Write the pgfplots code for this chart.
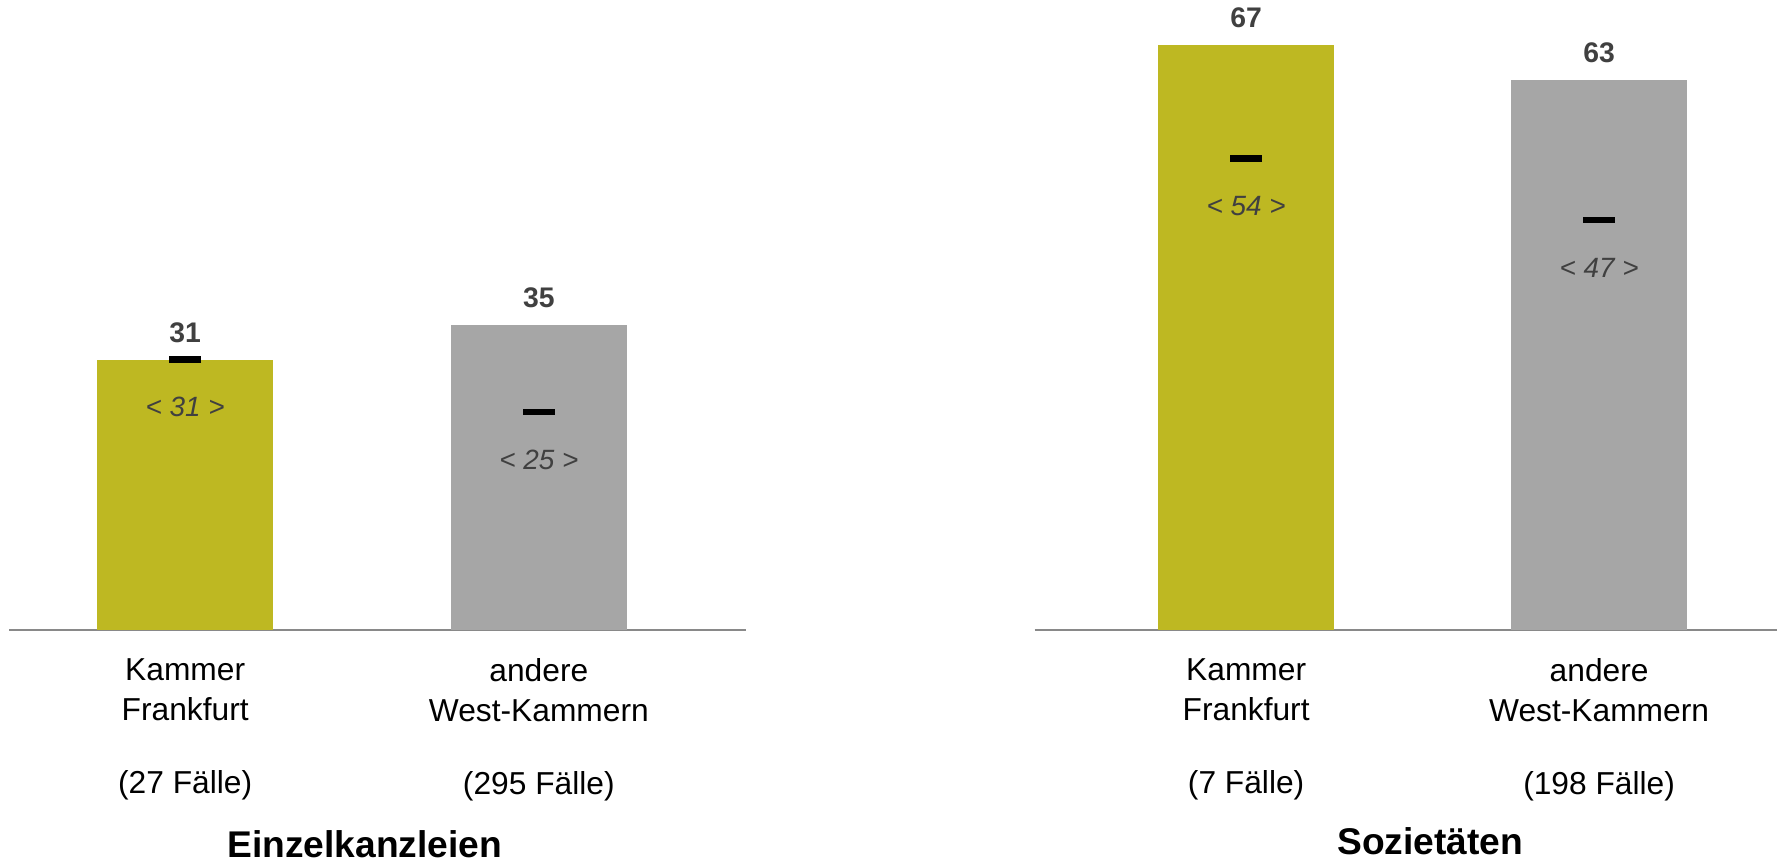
\documentclass[border=0pt]{standalone}
\usepackage{fontspec}
\setmainfont{Liberation Sans}
\usepackage{pgfplots}
\pgfplotsset{compat=1.18}

\definecolor{olivebar}{RGB}{190,184,34}
\definecolor{greybar}{RGB}{166,166,166}
\definecolor{labelgrey}{RGB}{64,64,64}
\definecolor{axisgrey}{RGB}{137,137,137}

\pgfplotsset{
  panel/.style={
    scale only axis, height=277.2pt, ymin=0, ymax=72,
    axis x line=bottom, axis y line=none,
    x axis line style={-, draw=axisgrey, line width=1pt},
    xtick={0,1}, major tick length=0pt,
    xticklabel style={anchor=north, align=center, yshift=-9pt,
      font=\fontsize{14}{17.5}\selectfont},
    /pgf/number format/assume math mode=true,
    clip=false, anchor=south west,
  },
  valbar/.style={ybar, bar width=77.5pt, bar shift=0pt, draw=none, fill=#1,
    nodes near coords,
    every node near coord/.append style={anchor=center, yshift=12pt,
      font=\bfseries\fontsize{12.5}{15}\selectfont, text=labelgrey}},
  median/.style={only marks, mark=-, mark size=7pt,
    mark options={line width=3pt, draw=black},
    nodes near coords={< \pgfmathprintnumber{\pgfplotspointmeta} >},
    every node near coord/.append style={anchor=center, yshift=-21pt,
      font=\itshape\fontsize{12.3}{15}\selectfont, text=labelgrey}},
}

\begin{document}
\begin{tikzpicture}
\useasboundingbox (0,0) rectangle (784pt,381.6pt);

% Einzelkanzleien
\begin{axis}[panel, at={(4pt,103.6pt)}, width=325pt,
  xmin=-0.498, xmax=1.585,
  xticklabels={Kammer\\Frankfurt\\[15pt](27 Fälle),
               andere\\West-Kammern\\[15pt](295 Fälle)}]
\addplot[valbar=olivebar] coordinates {(0,31)};
\addplot[valbar=greybar] coordinates {(1,35)};
\addplot[median] coordinates {(0,31) (1,25)};
\node[font=\bfseries\fontsize{16.4}{20}\selectfont, yshift=-94.5pt]
  at (rel axis cs:0.483,0) {Einzelkanzleien};
\end{axis}

% Sozietäten
\begin{axis}[panel, at={(456.5pt,103.6pt)}, width=327.5pt,
  xmin=-0.599, xmax=1.504,
  xticklabels={Kammer\\Frankfurt\\[15pt](7 Fälle),
               andere\\West-Kammern\\[15pt](198 Fälle)}]
\addplot[valbar=olivebar] coordinates {(0,67)};
\addplot[valbar=greybar] coordinates {(1,63)};
\addplot[median] coordinates {(0,54) (1,47)};
\node[font=\bfseries\fontsize{16.4}{20}\selectfont, yshift=-93pt]
  at (rel axis cs:0.533,0) {Sozietäten};
\end{axis}
\end{tikzpicture}
\end{document}
